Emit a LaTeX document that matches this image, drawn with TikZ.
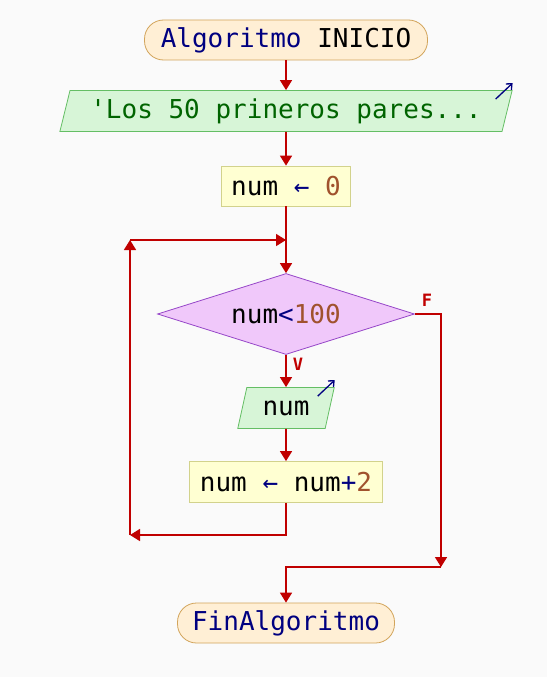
\documentclass[tikz,border=0pt]{standalone}
\usepackage{fontspec}
\setmonofont{DejaVu Sans Mono}
\usepackage{tikz}
\usepackage{xcolor}
\usetikzlibrary{shapes.geometric,arrows.meta,positioning}
\definecolor{bgc}{HTML}{FAFAFA}
\definecolor{flow}{HTML}{C00000}
\definecolor{kw}{HTML}{000080}
\definecolor{numc}{HTML}{A0522D}
\definecolor{strc}{HTML}{006400}
\definecolor{termfill}{HTML}{FFEFD5}
\definecolor{termline}{HTML}{D2A45A}
\definecolor{procfill}{HTML}{FFFFD2}
\definecolor{procline}{HTML}{D2D28C}
\definecolor{iofill}{HTML}{D7F5D7}
\definecolor{ioline}{HTML}{64BE64}
\definecolor{condfill}{HTML}{F0C8FA}
\definecolor{condline}{HTML}{9646C8}

\tikzset{
  base/.style={font=\ttfamily\fontsize{26}{30}\selectfont,inner sep=0pt,line width=0.8pt},
  term/.style={base,draw=termline,fill=termfill,rounded corners=19pt,minimum height=40pt},
  proc/.style={base,draw=procline,fill=procfill,minimum height=40pt},
  io/.style={base,trapezium,trapezium left angle=70,trapezium right angle=110,
    trapezium stretches=true,draw=ioline,fill=iofill,minimum height=41pt},
  cond/.style={base,diamond,aspect=3.17,draw=condline,fill=condfill,minimum width=257pt,minimum height=81pt},
  flowline/.style={flow,line width=1.6pt},
  flowarrow/.style={flowline,-{Triangle[length=10pt,width=12pt]}},
  iconarrow/.style={kw,line width=1.3pt,-{Straight Barb[length=4.5pt,width=8pt]}},
  tag/.style={flow,font=\ttfamily\fontsize{17}{20}\selectfont\bfseries,inner sep=0pt},
}

\begin{document}
\begin{tikzpicture}[x=1pt,y=-1pt]
\fill[bgc] (0,0) rectangle (547,677);
\useasboundingbox (0,0) rectangle (547,677);

% nodes
\node[term,minimum width=283pt] (start) at (286,40) {\textcolor{kw}{Algoritmo} INICIO};
\node[io,minimum width=455pt] (out) at (286,111) {\textcolor{strc}{'Los 50 prineros pares...}};
\node[proc,minimum width=129pt] (init) at (286,186) {num \textcolor{kw}{←} \textcolor{numc}{0}};
\node[cond] (test) at (286,314) {num\textcolor{kw}{<}\textcolor{numc}{100}};
\node[io,minimum width=97pt] (read) at (286,408) {num};
\node[proc,minimum width=193pt,minimum height=41pt] (incr) at (286,482) {num \textcolor{kw}{←} num\textcolor{kw}{+}\textcolor{numc}{2}};
\node[term,minimum width=217pt] (fin) at (286,623) {\textcolor{kw}{FinAlgoritmo}};

\node[tag] (lblF) at (427,300) {F};
\node[tag] (lblV) at (298,364) {V};

% bends
\coordinate (join) at (286,240);
\coordinate (backR) at (286,535);
\coordinate (backL) at (130,535);
\coordinate (backT) at (130,240);
\coordinate (falseR) at (441,314);
\coordinate (falseB) at (441,567);
\coordinate (falseL) at (286,567);

% io icons
\draw[iconarrow] ([shift={(-17,9)}]out.top right corner) -- ([shift={(0,-7)}]out.top right corner);
\draw[iconarrow] ([shift={(-17,9)}]read.top right corner) -- ([shift={(0,-7)}]read.top right corner);

% connectors
\draw[flowarrow] (start) -- (out);
\draw[flowarrow] (out) -- (init);
\draw[flowline] (init) -- (join);
\draw[flowarrow] (join) -- (test);
\draw[flowarrow] (test) -- (read);
\draw[flowarrow] (read) -- (incr);
\draw[flowarrow] (incr) -- (backR) -- (backL);
\draw[flowarrow] (backL) -- (backT);
\draw[flowarrow] (backT) -- (join);
\draw[flowarrow] (test.east) -- (falseR) -- (falseB);
\draw[flowarrow] (falseB) -- (falseL) -- (fin);
\end{tikzpicture}
\end{document}
